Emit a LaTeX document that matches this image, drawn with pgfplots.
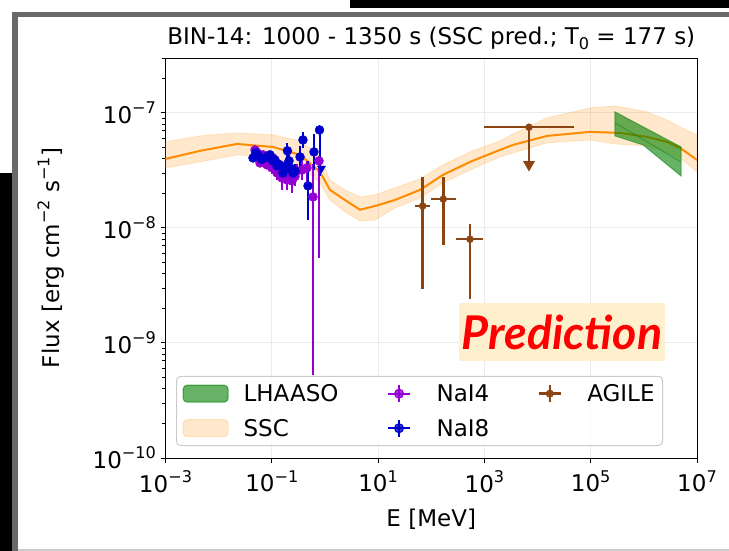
\documentclass[border=0pt]{standalone}
\usepackage{fontspec}
\setmainfont{DejaVu Sans}
\newfontfamily\latofont{Lato}
\usepackage{pgfplots}
\pgfplotsset{compat=1.18}
\usepackage{pgfplotstable}

\newcommand\bigfont{\fontsize{23}{27}\selectfont}
\newcommand\sps[1]{\raisebox{0.42em}{\fontsize{16.1}{16}\selectfont #1}}
\newcommand\sbs[1]{\raisebox{-0.2em}{\fontsize{16.1}{16}\selectfont #1}}

\definecolor{ssc}{RGB}{255,140,0}
\definecolor{nai4}{RGB}{148,0,211}
\definecolor{nai8}{RGB}{0,0,205}
\definecolor{agile}{RGB}{139,69,19}
\definecolor{lhaaso}{RGB}{0,128,0}
\definecolor{predbg}{RGB}{255,240,205}
\definecolor{framegray}{RGB}{105,105,105}

\pgfplotstableread{
E F
1e-3 3.98e-8
4.46e-3 4.68e-8
2.21e-2 5.37e-8
0.105 5.06e-8
0.34 4.32e-8
0.807 3.07e-8
1.245 2.14e-8
2.38 1.75e-8
4.56 1.44e-8
8.73 1.55e-8
20.7 1.75e-8
61.4 2.14e-8
166 2.89e-8
536 3.75e-8
1968 4.77e-8
3450 5.27e-8
1.51e4 6.31e-8
9.7e4 6.84e-8
3.56e5 6.70e-8
1.15e6 6.18e-8
2.72e6 5.60e-8
4.79e6 4.97e-8
1e7 3.90e-8
}\sscline

\pgfplotstableread{
E F
1e-3 5.60e-8
4.46e-3 6.31e-8
2.21e-2 6.70e-8
0.105 6.44e-8
0.34 5.71e-8
0.807 4.23e-8
1.245 2.61e-8
2.38 2.14e-8
4.56 1.86e-8
8.73 1.94e-8
20.7 2.23e-8
61.4 2.67e-8
166 3.53e-8
536 4.58e-8
1968 5.71e-8
3450 6.56e-8
1.51e4 9.06e-8
9.7e4 1.104e-7
2.86e5 1.151e-7
1.15e6 1.021e-7
2.72e6 8.69e-8
4.79e6 7.55e-8
1e7 6.44e-8
1e7 3.07e-8
4.79e6 4.06e-8
2.72e6 4.58e-8
1.15e6 5.16e-8
2.86e5 5.37e-8
9.7e4 5.82e-8
1.51e4 5.48e-8
3450 4.49e-8
1968 4.14e-8
536 3.19e-8
166 2.46e-8
61.4 1.82e-8
20.7 1.49e-8
8.73 1.17e-8
4.56 1.15e-8
2.38 1.38e-8
1.245 1.75e-8
0.807 2.46e-8
0.34 3.46e-8
0.105 4.06e-8
2.21e-2 4.32e-8
4.46e-3 3.75e-8
1e-3 3.33e-8
}\sscband

\pgfplotstableread{
E F exm exp eym eyp
0.0483 4.77e-8 0.0034 0.0034 3e-9 3e-9
0.0520 4.55e-8 0.0036 0.0036 3e-9 3e-9
0.0550 4.40e-8 0.0038 0.0038 3e-9 3e-9
0.0600 3.67e-8 0.0042 0.0042 3e-9 3e-9
0.0683 4.32e-8 0.0048 0.0048 3e-9 3e-9
0.0750 3.75e-8 0.0052 0.0052 3e-9 3e-9
0.0813 3.53e-8 0.0057 0.0057 3e-9 3e-9
0.0925 3.90e-8 0.0065 0.0065 3e-9 3e-9
0.1009 3.33e-8 0.0070 0.0070 4e-9 4e-9
0.105 4.06e-8 0.0074 0.0074 4e-9 4e-9
0.1253 3.01e-8 0.0088 0.0088 4e-9 4e-9
0.1426 3.30e-8 0.0100 0.0100 4e-9 4e-9
0.1556 2.72e-8 0.0109 0.0109 5.8e-9 5e-9
0.1750 2.95e-8 0.0122 0.0122 5e-9 5e-9
0.1932 2.61e-8 0.0135 0.0135 4.7e-9 4e-9
0.220 2.90e-8 0.0154 0.0154 5e-9 5e-9
0.240 2.56e-8 0.0168 0.0168 5.5e-9 5e-9
0.273 2.80e-8 0.0191 0.0191 5e-9 5e-9
0.298 3.13e-8 0.0209 0.0209 5e-9 5e-9
0.370 3.19e-8 0.0259 0.0259 6e-9 6e-9
0.459 3.33e-8 0.0321 0.0321 8e-9 5e-9
0.596 1.86e-8 0.0417 0.0417 1.807e-8 1.7e-8
0.773 3.83e-8 0.0541 0.0541 3.28e-8 4e-9
}\naiFour

\pgfplotstableread{
E F exm exp eym eyp
0.0443 4.06e-8 0.0031 0.0031 3e-9 3e-9
0.0500 4.50e-8 0.0035 0.0035 3e-9 3e-9
0.0550 4.32e-8 0.0038 0.0038 3e-9 3e-9
0.0650 3.95e-8 0.0045 0.0045 3e-9 3e-9
0.0745 4.06e-8 0.0052 0.0052 3e-9 3e-9
0.0830 4.20e-8 0.0058 0.0058 3e-9 3e-9
0.0925 4.32e-8 0.0065 0.0065 3e-9 3e-9
0.105 3.80e-8 0.0074 0.0074 4e-9 4e-9
0.1148 3.90e-8 0.0080 0.0080 4e-9 4e-9
0.1253 3.46e-8 0.0088 0.0088 4e-9 4e-9
0.1426 3.53e-8 0.0100 0.0100 4e-9 4e-9
0.1626 3.01e-8 0.0114 0.0114 4e-9 4e-9
0.180 3.40e-8 0.0126 0.0126 4e-9 4e-9
0.197 4.68e-8 0.0138 0.0138 6.2e-9 8e-9
0.211 3.83e-8 0.0148 0.0148 5e-9 5e-9
0.220 3.33e-8 0.0154 0.0154 5e-9 5e-9
0.250 3.00e-8 0.0175 0.0175 5e-9 5e-9
0.273 3.13e-8 0.0191 0.0191 5e-9 5e-9
0.340 4.14e-8 0.0238 0.0238 1.0e-8 1.0e-8
0.386 5.82e-8 0.0270 0.0270 8.5e-9 1.0e-8
0.480 2.32e-8 0.0336 0.0336 1.15e-8 1.5e-8
0.622 4.58e-8 0.0435 0.0435 1.4e-8 2.0e-8
0.790 7.11e-8 0.0553 0.0553 4.3e-8 3e-9
}\naiEight

\pgfplotstableread{
E F exm exp eym eyp
69.0 1.55e-8 19.5 25.7 1.255e-8 1.24e-8
168.6 1.78e-8 71 119.4 1.069e-8 1.01e-8
536 7.98e-9 244 417 5.57e-9 2.82e-9
6900 7.51e-8 5918 41600 3.91e-8 0
}\agile

\begin{document}
\begin{tikzpicture}
\fill[white] (0pt,0pt) rectangle (729pt,551pt);
% surrounding screenshot frame
\fill[black] (0pt,0pt) rectangle (12pt,378pt);
\fill[black] (350pt,543pt) rectangle (729pt,551pt);
\fill[framegray] (12pt,0pt) rectangle (17.5pt,539pt);
\fill[framegray] (12pt,534pt) rectangle (729pt,539pt);
\fill[black!20] (17.5pt,0pt) rectangle (729pt,2pt);

\begin{axis}[
  at={(165.5pt,93pt)}, anchor=south west,
  scale only axis, width=531.5pt, height=400pt,
  xmode=log, ymode=log, log basis x=10, log basis y=10,
  xmin=1e-3, xmax=1e7, ymin=1e-10, ymax=3e-7,
  xtick={1e-3,1e-1,1e1,1e3,1e5,1e7},
  xticklabels={10\sps{−3},10\sps{−1},10\sps{1},10\sps{3},10\sps{5},10\sps{7}},
  minor xtick={},
  ytick={1e-10,1e-9,1e-8,1e-7},
  yticklabels={10\sps{−10},10\sps{−9},10\sps{−8},10\sps{−7}},
  minor ytick={2e-10,3e-10,4e-10,5e-10,6e-10,7e-10,8e-10,9e-10,2e-9,3e-9,4e-9,5e-9,6e-9,7e-9,8e-9,9e-9,2e-8,3e-8,4e-8,5e-8,6e-8,7e-8,8e-8,9e-8,2e-7,3e-7},
  tick pos=left, tick align=outside,
  major tick length=5pt, minor tick length=3pt,
  every tick/.style={black, line width=1pt},
  every minor tick/.style={black, line width=0.8pt},
  grid=major, major grid style={draw=black!8, line width=1pt},
  axis line style={line width=1pt},
  tick label style={font=\bigfont},
  xticklabel style={yshift=-4pt},
  yticklabel style={xshift=-1pt},
  label style={font=\bigfont},
  xlabel style={yshift=-10pt},
  ylabel style={yshift=22pt},
  title style={font=\bigfont, yshift=-1pt},
  title={BIN-14: 1000 - 1350 s (SSC pred.; T\sbs{0} = 177 s)},
  xlabel={E [MeV]},
  ylabel={Flux [erg cm\sps{−2} s\sps{−1}]},
  legend columns=3,
  legend style={at={(0.02,0.03)}, anchor=south west,
    draw=black!20, line width=1pt, rounded corners=4pt,
    fill=white, fill opacity=0.8, text opacity=1,
    font=\bigfont,
    inner xsep=6pt, inner ysep=6pt,
    /tikz/every odd column/.append style={column sep=13pt},
    /tikz/every even column/.append style={column sep=36pt},
    row sep=12pt},
  legend cell align=left,
]
% SSC band and line
\addplot[forget plot, fill=ssc, fill opacity=0.2, draw=ssc, draw opacity=0.15, line width=1pt] table[x=E,y=F] {\sscband} -- cycle;
\addplot[forget plot, ssc, line width=2pt] table[x=E,y=F] {\sscline};
% LHAASO butterfly
\addplot[forget plot, fill=lhaaso, fill opacity=0.6, draw=lhaaso, draw opacity=0.5, line width=1pt] coordinates {(2.86e5,1.021e-7) (5.0e6,5.06e-8) (5.0e6,2.83e-8) (9.64e5,5.27e-8) (2.86e5,6.31e-8)} -- cycle;
\addplot[forget plot, lhaaso, opacity=0.45, line width=1pt] coordinates {(2.86e5,8.19e-8) (5.0e6,3.75e-8)};
% NaI4
\addplot[forget plot, only marks, mark=*, mark size=4.5pt, color=nai4,
  error bars/.cd, x dir=both, x explicit, y dir=both, y explicit,
  error mark=none, error bar style={line width=2pt, nai4}]
  table[x=E, y=F, x error minus=exm, x error plus=exp, y error minus=eym, y error plus=eyp] {\naiFour};
% NaI8
\addplot[forget plot, only marks, mark=*, mark size=4.5pt, color=nai8,
  error bars/.cd, x dir=both, x explicit, y dir=both, y explicit,
  error mark=none, error bar style={line width=2pt, nai8}]
  table[x=E, y=F, x error minus=exm, x error plus=exp, y error minus=eym, y error plus=eyp] {\naiEight};
\addplot[forget plot, only marks, mark=triangle*, mark size=4.6pt, mark options={rotate=180}, color=nai8] coordinates {(0.861,3.29e-8)};
% AGILE
\addplot[forget plot, only marks, mark=*, mark size=3.5pt, color=agile,
  error bars/.cd, x dir=both, x explicit, y dir=both, y explicit,
  error mark=none, error bar style={line width=2.5pt, agile}]
  table[x=E, y=F, x error minus=exm, x error plus=exp, y error minus=eym, y error plus=eyp] {\agile};
\addplot[forget plot, only marks, mark=triangle*, mark size=6.5pt, mark options={rotate=180}, color=agile] coordinates {(6900,3.56e-8)};

% Prediction label
\node[fill=predbg, text=red, inner sep=0pt, minimum width=206pt, minimum height=58pt,
  font=\latofont\bfseries\itshape\fontsize{46.5}{46}\selectfont]
  at (rel axis cs:0.746,0.315) {Prediction};

% legend
\addlegendimage{legend image code/.code={\draw[fill=lhaaso, fill opacity=0.6, draw=lhaaso, draw opacity=0.6, line width=1pt] (0pt,-8.5pt) rectangle (45pt,8.5pt);}}
\addlegendentry{LHAASO}
\addlegendimage{legend image code/.code={\path[draw=none, fill=none] (0pt,-8.5pt) rectangle (45pt,8.5pt); \draw[nai4, line width=2pt] (11.5pt,0pt)--(33.5pt,0pt) (22.5pt,-8.5pt)--(22.5pt,8.5pt); \fill[nai4] (22.5pt,0pt) circle (4.5pt);}}
\addlegendentry{NaI4}
\addlegendimage{legend image code/.code={\path[draw=none, fill=none] (0pt,-8.5pt) rectangle (45pt,8.5pt); \draw[agile, line width=2.5pt] (11.5pt,0pt)--(33.5pt,0pt) (22.5pt,-8.5pt)--(22.5pt,8.5pt); \fill[agile] (22.5pt,0pt) circle (3.5pt);}}
\addlegendentry{AGILE}
\addlegendimage{legend image code/.code={\draw[fill=ssc, fill opacity=0.2, draw=ssc, draw opacity=0.2, line width=1pt] (0pt,-8.5pt) rectangle (45pt,8.5pt);}}
\addlegendentry{SSC}
\addlegendimage{legend image code/.code={\path[draw=none, fill=none] (0pt,-8.5pt) rectangle (45pt,8.5pt); \draw[nai8, line width=2pt] (11.5pt,0pt)--(33.5pt,0pt) (22.5pt,-8.5pt)--(22.5pt,8.5pt); \fill[nai8] (22.5pt,0pt) circle (4.5pt);}}
\addlegendentry{NaI8}
\end{axis}
\end{tikzpicture}
\end{document}
